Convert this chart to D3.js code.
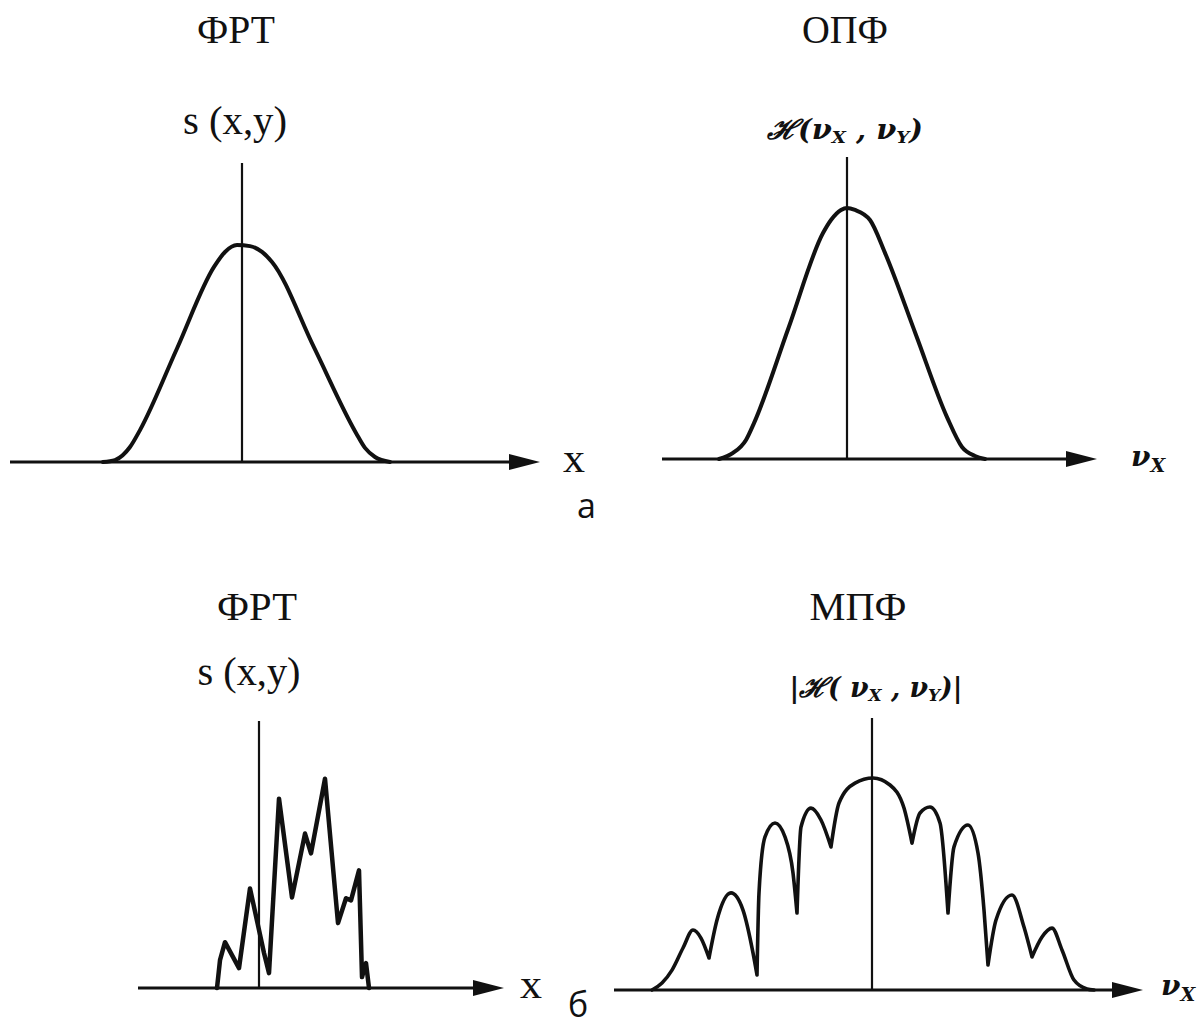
<!DOCTYPE html>
<html>
<head>
<meta charset="utf-8">
<script src="https://cdn.jsdelivr.net/npm/d3@7"></script>
<style>
  html, body { margin: 0; padding: 0; background: #fff; }
  svg { display: block; }
</style>
</head>
<body>
<div id="chart"></div>
<script>
// ---- Data -------------------------------------------------------------
// x: offset from the vertical axis (arbitrary units), y: % of the curve's peak

// (а) left: ФРТ s(x,y) of a well-corrected system
const psfSmoothX = [-1.39, -1.27, -1.12, -1.02, -0.65, -0.28, -0.17, -0.05, 0.08, 0.20, 0.30, 0.72, 1.14, 1.23, 1.33, 1.48];
const psfSmoothY = [0, 0.9, 6.9, 14.7, 52.3, 89.9, 96.8, 100, 99.5, 96.8, 92.2, 52.8, 13.4, 6.5, 2.3, 0];

// (а) right: ОПФ ℋ(νx, νy)
const otfX = [-1.28, -1.14, -1.01, -0.93, -0.585, -0.24, -0.16, -0.06, 0, 0.08, 0.23, 0.38, 0.69, 1.00, 1.15, 1.28, 1.38];
const otfY = [0, 2.4, 7.6, 14.3, 52.2, 90.0, 95.2, 99.2, 100, 99.2, 95.2, 82.1, 49.4, 16.7, 4.8, 1.2, 0];

// (б) left: ФРТ s(x,y) of an aberrated system (jagged profile)
const psfNoisyX = [-0.42, -0.39, -0.34, -0.20, -0.09, 0.05, 0.10, 0.20, 0.33, 0.46, 0.52, 0.66, 0.79, 0.87, 0.92, 1.00, 1.03, 1.07, 1.10];
const psfNoisyY = [0, 13.3, 21.9, 9.5, 47.6, 16.7, 7.1, 90.5, 43.3, 73.8, 64.3, 100, 31.0, 42.9, 41.9, 56.2, 5.2, 11.9, 0];

// (б) right: МПФ |ℋ(νx, νy)| — one array pair per lobe between cusps
const mtfLobeX = [
  [-2.20, -2.10, -2.00, -1.89, -1.79, -1.71, -1.63],
  [-1.63, -1.55, -1.41, -1.29, -1.19, -1.15],
  [-1.15, -1.13, -1.07, -0.97, -0.87, -0.79, -0.75],
  [-0.75, -0.71, -0.61, -0.51, -0.41],
  [-0.41, -0.33, -0.17, 0.01, 0.18, 0.32, 0.40],
  [0.40, 0.48, 0.58, 0.68, 0.76],
  [0.76, 0.82, 0.96, 1.06, 1.12, 1.16],
  [1.16, 1.24, 1.40, 1.52, 1.60],
  [1.60, 1.70, 1.80, 1.90, 2.02, 2.15, 2.22]
];
const mtfLobeY = [
  [0, 3.3, 9.4, 19.8, 28.3, 24.5, 15.1],
  [15.1, 33.0, 45.8, 37.7, 17.5, 7.1],
  [7.1, 45.8, 72.2, 78.8, 72.2, 55.2, 36.3],
  [36.3, 76.9, 85.8, 80.2, 67.5],
  [67.5, 88.2, 97.6, 100, 96.7, 85.8, 69.3],
  [69.3, 83.5, 86.3, 78.8, 36.3],
  [36.3, 67.5, 77.8, 64.6, 37.7, 11.8],
  [11.8, 33.0, 44.8, 29.7, 15.6],
  [15.6, 25.0, 29.2, 18.9, 4.7, 0.5, 0]
];

// ---- Drawing ----------------------------------------------------------
const W = 1204, H = 1029;
const svg = d3.select("#chart").append("svg")
  .attr("width", W).attr("height", H)
  .attr("viewBox", `0 0 ${W} ${H}`);

svg.append("rect").attr("width", W).attr("height", H).attr("fill", "#fff");

const INK = "#111";
const zip = (xs, ys) => xs.map((x, i) => [x, ys[i]]);

// panel frames: axis extent in pixels and the data domain it spans
const panels = [
  { x0: 10,  x1: 540,  yBase: 462, yTop: 163, xDom: [-2.32, 2.98], yDom: [0, 137.8] },
  { x0: 662, x1: 1097, yBase: 459, yTop: 157, xDom: [-1.85, 2.50], yDom: [0, 120.3] },
  { x0: 138, x1: 504,  yBase: 988, yTop: 721, xDom: [-1.21, 2.45], yDom: [0, 127.6] },
  { x0: 614, x1: 1143, yBase: 990, yTop: 718, xDom: [-2.58, 2.71], yDom: [0, 128.3] }
];

panels.forEach(p => {
  p.x = d3.scaleLinear().domain(p.xDom).range([p.x0, p.x1]);
  p.y = d3.scaleLinear().domain(p.yDom).range([p.yBase, p.yTop]);
  const g = svg.append("g");
  p.g = g;
  // horizontal axis with arrow
  const arrowLen = 31, arrowHalf = 8;
  g.append("line")
    .attr("x1", p.x0).attr("x2", p.x1 - arrowLen + 2)
    .attr("y1", p.yBase).attr("y2", p.yBase)
    .attr("stroke", INK).attr("stroke-width", 2.8);
  g.append("path")
    .attr("d", `M${p.x1},${p.yBase} L${p.x1 - arrowLen},${p.yBase - arrowHalf} L${p.x1 - arrowLen},${p.yBase + arrowHalf} Z`)
    .attr("fill", INK);
  // vertical axis at the origin
  g.append("line")
    .attr("x1", p.x(0)).attr("x2", p.x(0))
    .attr("y1", p.y(p.yDom[0])).attr("y2", p.y(p.yDom[1]))
    .attr("stroke", INK).attr("stroke-width", 2.2);
});

function lineFor(p, curve) {
  return d3.line().x(d => p.x(d[0])).y(d => p.y(d[1])).curve(curve);
}

// (а) curves
panels[0].g.append("path")
  .attr("d", lineFor(panels[0], d3.curveMonotoneX)(zip(psfSmoothX, psfSmoothY)))
  .attr("fill", "none").attr("stroke", INK).attr("stroke-width", 4)
  .attr("stroke-linecap", "round").attr("stroke-linejoin", "round");

panels[1].g.append("path")
  .attr("d", lineFor(panels[1], d3.curveMonotoneX)(zip(otfX, otfY)))
  .attr("fill", "none").attr("stroke", INK).attr("stroke-width", 4)
  .attr("stroke-linecap", "round").attr("stroke-linejoin", "round");

// (б) curves
panels[2].g.append("path")
  .attr("d", lineFor(panels[2], d3.curveLinear)(zip(psfNoisyX, psfNoisyY)))
  .attr("fill", "none").attr("stroke", INK).attr("stroke-width", 4.5)
  .attr("stroke-linecap", "round").attr("stroke-linejoin", "round");

const lobeLine = lineFor(panels[3], d3.curveMonotoneX);
panels[3].g.append("path")
  .attr("d", mtfLobeX.map((xs, i) => lobeLine(zip(xs, mtfLobeY[i]))).join(""))
  .attr("fill", "none").attr("stroke", INK).attr("stroke-width", 3.6)
  .attr("stroke-linecap", "round").attr("stroke-linejoin", "round");

// ---- Text -------------------------------------------------------------
const SERIF = "'Liberation Serif', 'Times New Roman', serif";
const MATH = "'DejaVu Serif', 'Liberation Serif', serif";
const SANS = "'Open Sans', 'Noto Sans', sans-serif";

function plain(x, y, str, size, width, family, anchor) {
  const t = svg.append("text")
    .attr("x", x).attr("y", y)
    .attr("text-anchor", anchor || "middle")
    .attr("font-family", family || SERIF)
    .attr("font-size", size)
    .attr("fill", INK)
    .text(str);
  if (width) t.attr("textLength", width).attr("lengthAdjust", "spacingAndGlyphs");
  return t;
}

// titles
plain(236, 43, "ФРТ", 39, 78);
plain(845, 43, "ОПФ", 39, 86);
plain(257, 620, "ФРТ", 39, 80);
plain(858, 620, "МПФ", 39, 97);

// ordinate labels
plain(235, 134, "s (x,y)", 40, 104);
plain(249, 685, "s (x,y)", 40, 103);

function hLabel(x, y, width, abs) {
  const t = svg.append("text")
    .attr("x", x).attr("y", y)
    .attr("text-anchor", "middle")
    .attr("font-family", MATH)
    .attr("font-style", "italic")
    .attr("font-weight", "bold")
    .attr("font-size", 27)
    .attr("fill", INK)
    .attr("textLength", width).attr("lengthAdjust", "spacingAndGlyphs");
  t.append("tspan").text((abs ? "|" : "") + "ℋ(" + (abs ? " " : "") + "ν");
  t.append("tspan").attr("font-size", 17).attr("dy", 4).text("X");
  t.append("tspan").attr("dy", -4).text(" , ν");
  t.append("tspan").attr("font-size", 17).attr("dy", 4).text("Y");
  t.append("tspan").attr("dy", -4).text(")" + (abs ? "|" : ""));
}
hLabel(845, 139, 156, false);
hLabel(876, 697, 173, true);

// abscissa labels
plain(563, 472, "x", 40, 22, SERIF, "start");
plain(520, 998, "x", 40, 22, SERIF, "start");

function nuLabel(x, y) {
  const t = svg.append("text")
    .attr("x", x).attr("y", y)
    .attr("font-family", MATH)
    .attr("font-style", "italic")
    .attr("font-weight", "bold")
    .attr("font-size", 28)
    .attr("fill", INK);
  t.append("tspan").text("ν");
  t.append("tspan").attr("font-size", 19).attr("dy", 6).text("X");
}
nuLabel(1131, 466);
nuLabel(1161, 995);

// sub-figure letters
plain(577, 518, "а", 34, null, SANS, "start");
plain(568, 1017, "б", 34, null, SANS, "start");
</script>
</body>
</html>
